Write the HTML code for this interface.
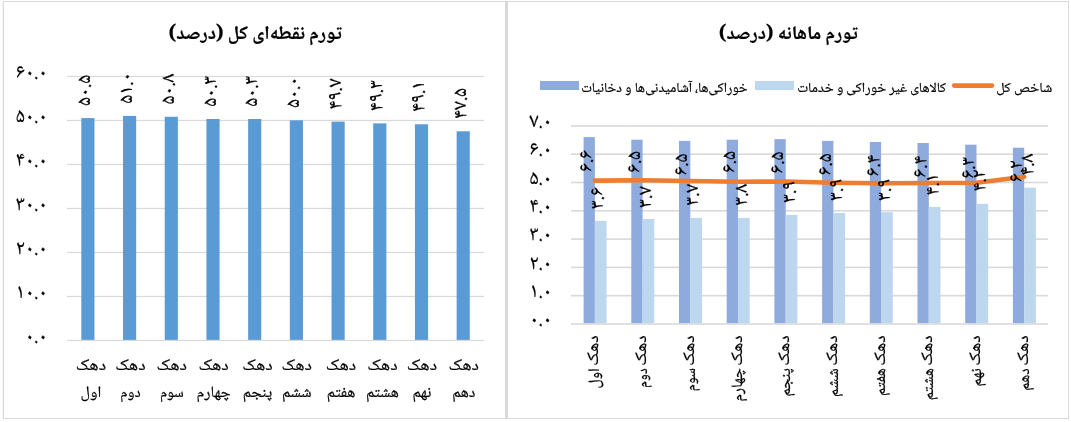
<!DOCTYPE html>
<html lang="fa">
<head>
<meta charset="utf-8">
<title>تورم</title>
<style>html,body{margin:0;padding:0;background:#fff;overflow:hidden}svg{display:block}text{white-space:pre;stroke:#000;stroke-width:.2px}</style>
</head>
<body>
<svg width="1071" height="422" viewBox="0 0 1071 422" font-family='"Noto Naskh Arabic", "Liberation Sans", "DejaVu Sans", sans-serif' fill="#000" lang="fa">
<rect x="0" y="0" width="1071" height="422" fill="#fff"/>
<g fill="#D9D9D9" shape-rendering="crispEdges">
<rect x="3" y="1" width="1066" height="1"/>
<rect x="3" y="418" width="1066" height="1"/>
</g>
<rect x="2.75" y="1" width="1.25" height="418" fill="#D9D9D9"/>
<g fill="#D9D9D9" shape-rendering="crispEdges">
<rect x="1068" y="1" width="1" height="418"/>
<rect x="505" y="1" width="3" height="418"/>
</g>
<g fill="#D9D9D9">
<rect x="67" y="75.85" width="417" height="1.2"/>
<rect x="67" y="119.85" width="417" height="1.2"/>
<rect x="67" y="163.85" width="417" height="1.2"/>
<rect x="67" y="207.85" width="417" height="1.2"/>
<rect x="67" y="251.85" width="417" height="1.2"/>
<rect x="67" y="295.85" width="417" height="1.2"/>
</g>
<g fill="#5B9BD5">
<rect x="81.32" y="118.10" width="13.15" height="221.90"/>
<rect x="123.03" y="115.90" width="13.15" height="224.10"/>
<rect x="164.73" y="116.78" width="13.15" height="223.22"/>
<rect x="206.43" y="118.98" width="13.15" height="221.02"/>
<rect x="248.13" y="118.98" width="13.15" height="221.02"/>
<rect x="289.83" y="120.30" width="13.15" height="219.70"/>
<rect x="331.53" y="121.62" width="13.15" height="218.38"/>
<rect x="373.23" y="123.38" width="13.15" height="216.62"/>
<rect x="414.93" y="124.26" width="13.15" height="215.74"/>
<rect x="456.63" y="131.30" width="13.15" height="208.70"/>
</g>
<rect x="67" y="339.85" width="417" height="1.2" fill="#D9D9D9"/>
<text x="47.50" y="77.70" font-size="20.5" text-anchor="end" textLength="31.8" lengthAdjust="spacingAndGlyphs">۶۰.۰</text>
<text x="47.50" y="121.70" font-size="20.5" text-anchor="end" textLength="31.8" lengthAdjust="spacingAndGlyphs">۵۰.۰</text>
<text x="47.50" y="165.70" font-size="20.5" text-anchor="end" textLength="31.8" lengthAdjust="spacingAndGlyphs">۴۰.۰</text>
<text x="47.50" y="209.70" font-size="20.5" text-anchor="end" textLength="31.8" lengthAdjust="spacingAndGlyphs">۳۰.۰</text>
<text x="47.50" y="253.70" font-size="20.5" text-anchor="end" textLength="31.8" lengthAdjust="spacingAndGlyphs">۲۰.۰</text>
<text x="47.50" y="297.70" font-size="20.5" text-anchor="end" textLength="31.8" lengthAdjust="spacingAndGlyphs">۱۰.۰</text>
<text x="47.50" y="341.70" font-size="20.5" text-anchor="end" textLength="22.6" lengthAdjust="spacingAndGlyphs">۰.۰</text>
<text x="90.50" y="105.90" font-size="20" transform="rotate(-90 90.50 105.90)" textLength="31.1" lengthAdjust="spacingAndGlyphs">۵۰.۵</text>
<text x="132.20" y="103.70" font-size="20" transform="rotate(-90 132.20 103.70)" textLength="31.1" lengthAdjust="spacingAndGlyphs">۵۱.۰</text>
<text x="173.90" y="104.58" font-size="20" transform="rotate(-90 173.90 104.58)" textLength="31.1" lengthAdjust="spacingAndGlyphs">۵۰.۸</text>
<text x="215.60" y="106.78" font-size="20" transform="rotate(-90 215.60 106.78)" textLength="31.1" lengthAdjust="spacingAndGlyphs">۵۰.۳</text>
<text x="257.30" y="106.78" font-size="20" transform="rotate(-90 257.30 106.78)" textLength="31.1" lengthAdjust="spacingAndGlyphs">۵۰.۳</text>
<text x="299.00" y="108.10" font-size="20" transform="rotate(-90 299.00 108.10)" textLength="31.1" lengthAdjust="spacingAndGlyphs">۵۰.۰</text>
<text x="340.70" y="109.42" font-size="20" transform="rotate(-90 340.70 109.42)" textLength="31.1" lengthAdjust="spacingAndGlyphs">۴۹.۷</text>
<text x="382.40" y="111.18" font-size="20" transform="rotate(-90 382.40 111.18)" textLength="31.1" lengthAdjust="spacingAndGlyphs">۴۹.۳</text>
<text x="424.10" y="112.06" font-size="20" transform="rotate(-90 424.10 112.06)" textLength="31.1" lengthAdjust="spacingAndGlyphs">۴۹.۱</text>
<text x="465.80" y="119.10" font-size="20" transform="rotate(-90 465.80 119.10)" textLength="31.1" lengthAdjust="spacingAndGlyphs">۴۷.۵</text>
<text x="90.90" y="369.70" font-size="16" text-anchor="middle" textLength="30.4" lengthAdjust="spacingAndGlyphs">دهک</text>
<text x="90.90" y="397.30" font-size="16" text-anchor="middle" textLength="20.8" lengthAdjust="spacingAndGlyphs">اول</text>
<text x="130.40" y="369.70" font-size="16" text-anchor="middle" textLength="30.4" lengthAdjust="spacingAndGlyphs">دهک</text>
<text x="130.40" y="397.30" font-size="16" text-anchor="middle" textLength="20.4" lengthAdjust="spacingAndGlyphs">دوم</text>
<text x="171.80" y="369.70" font-size="16" text-anchor="middle" textLength="30.4" lengthAdjust="spacingAndGlyphs">دهک</text>
<text x="171.80" y="397.30" font-size="16" text-anchor="middle" textLength="23.8" lengthAdjust="spacingAndGlyphs">سوم</text>
<text x="213.60" y="369.70" font-size="16" text-anchor="middle" textLength="30.4" lengthAdjust="spacingAndGlyphs">دهک</text>
<text x="213.60" y="397.30" font-size="16" text-anchor="middle" textLength="34.3" lengthAdjust="spacingAndGlyphs">چهارم</text>
<text x="257.50" y="369.70" font-size="16" text-anchor="middle" textLength="30.4" lengthAdjust="spacingAndGlyphs">دهک</text>
<text x="257.50" y="397.30" font-size="16" text-anchor="middle" textLength="29.3" lengthAdjust="spacingAndGlyphs">پنجم</text>
<text x="296.80" y="369.70" font-size="16" text-anchor="middle" textLength="30.4" lengthAdjust="spacingAndGlyphs">دهک</text>
<text x="296.80" y="397.30" font-size="16" text-anchor="middle" textLength="29.6" lengthAdjust="spacingAndGlyphs">ششم</text>
<text x="341.00" y="369.70" font-size="16" text-anchor="middle" textLength="30.4" lengthAdjust="spacingAndGlyphs">دهک</text>
<text x="341.00" y="397.30" font-size="16" text-anchor="middle" textLength="28.5" lengthAdjust="spacingAndGlyphs">هفتم</text>
<text x="382.40" y="369.70" font-size="16" text-anchor="middle" textLength="30.4" lengthAdjust="spacingAndGlyphs">دهک</text>
<text x="382.40" y="397.30" font-size="16" text-anchor="middle" textLength="33.0" lengthAdjust="spacingAndGlyphs">هشتم</text>
<text x="421.90" y="369.70" font-size="16" text-anchor="middle" textLength="30.4" lengthAdjust="spacingAndGlyphs">دهک</text>
<text x="421.90" y="397.30" font-size="16" text-anchor="middle" textLength="19.0" lengthAdjust="spacingAndGlyphs">نهم</text>
<text x="463.80" y="369.70" font-size="16" text-anchor="middle" textLength="30.4" lengthAdjust="spacingAndGlyphs">دهک</text>
<text x="463.80" y="397.30" font-size="16" text-anchor="middle" textLength="23.2" lengthAdjust="spacingAndGlyphs">دهم</text>
<text x="255.20" y="39.00" font-size="19.05" text-anchor="middle" font-weight="bold" textLength="173.3" lengthAdjust="spacingAndGlyphs">تورم نقطه‌ای کل (درصد)</text>
<g fill="#D9D9D9">
<rect x="571" y="125.10" width="477" height="1.6"/>
<rect x="571" y="153.40" width="477" height="1.6"/>
<rect x="571" y="181.70" width="477" height="1.6"/>
<rect x="571" y="210.00" width="477" height="1.6"/>
<rect x="571" y="238.30" width="477" height="1.6"/>
<rect x="571" y="266.60" width="477" height="1.6"/>
<rect x="571" y="294.90" width="477" height="1.6"/>
</g>
<g fill="#8FAADC">
<rect x="583.60" y="137.1" width="11.3" height="186.30"/>
<rect x="631.30" y="139.7" width="11.3" height="183.70"/>
<rect x="679.00" y="140.9" width="11.3" height="182.50"/>
<rect x="726.70" y="139.7" width="11.3" height="183.70"/>
<rect x="774.40" y="139.1" width="11.3" height="184.30"/>
<rect x="822.10" y="140.9" width="11.3" height="182.50"/>
<rect x="869.80" y="142" width="11.3" height="181.40"/>
<rect x="917.50" y="143" width="11.3" height="180.40"/>
<rect x="965.20" y="144.7" width="11.3" height="178.70"/>
<rect x="1012.90" y="147.7" width="11.3" height="175.70"/>
</g><g fill="#BDD7EE">
<rect x="594.80" y="220.9" width="11.8" height="102.50"/>
<rect x="642.50" y="219" width="11.8" height="104.40"/>
<rect x="690.20" y="217.9" width="11.8" height="105.50"/>
<rect x="737.90" y="217.9" width="11.8" height="105.50"/>
<rect x="785.60" y="214.9" width="11.8" height="108.50"/>
<rect x="833.30" y="213" width="11.8" height="110.40"/>
<rect x="881.00" y="212.2" width="11.8" height="111.20"/>
<rect x="928.70" y="206.9" width="11.8" height="116.50"/>
<rect x="976.40" y="203.8" width="11.8" height="119.60"/>
<rect x="1024.10" y="187.7" width="11.8" height="135.70"/>
</g>
<rect x="571" y="323.20" width="477" height="1.6" fill="#D9D9D9"/>
<polyline points="594.85,180.65 642.55,180.30 690.25,181.00 737.95,181.70 785.65,181.50 833.35,182.70 881.05,183.20 928.75,183.00 976.45,182.80 1024.15,176.70" fill="none" stroke="#ED7D31" stroke-width="4.6" stroke-linecap="round" stroke-linejoin="round"/>
<text x="552.00" y="127.00" font-size="20.5" text-anchor="end" textLength="22.6" lengthAdjust="spacingAndGlyphs">۷.۰</text>
<text x="552.00" y="155.30" font-size="20.5" text-anchor="end" textLength="22.6" lengthAdjust="spacingAndGlyphs">۶.۰</text>
<text x="552.00" y="183.60" font-size="20.5" text-anchor="end" textLength="22.6" lengthAdjust="spacingAndGlyphs">۵.۰</text>
<text x="552.00" y="211.90" font-size="20.5" text-anchor="end" textLength="22.6" lengthAdjust="spacingAndGlyphs">۴.۰</text>
<text x="552.00" y="240.20" font-size="20.5" text-anchor="end" textLength="22.6" lengthAdjust="spacingAndGlyphs">۳.۰</text>
<text x="552.00" y="268.50" font-size="20.5" text-anchor="end" textLength="22.6" lengthAdjust="spacingAndGlyphs">۲.۰</text>
<text x="552.00" y="296.80" font-size="20.5" text-anchor="end" textLength="22.6" lengthAdjust="spacingAndGlyphs">۱.۰</text>
<text x="552.00" y="325.10" font-size="20.5" text-anchor="end" textLength="22.6" lengthAdjust="spacingAndGlyphs">۰.۰</text>
<text x="592.20" y="172.00" font-size="20" transform="rotate(-90 592.20 172.00)" textLength="22.1" lengthAdjust="spacingAndGlyphs">۶.۶</text>
<text x="603.40" y="209.20" font-size="20" transform="rotate(-90 603.40 209.20)" textLength="22.1" lengthAdjust="spacingAndGlyphs">۳.۶</text>
<text x="640.00" y="173.10" font-size="20" transform="rotate(-90 640.00 173.10)" textLength="22.1" lengthAdjust="spacingAndGlyphs">۶.۵</text>
<text x="650.80" y="208.10" font-size="20" transform="rotate(-90 650.80 208.10)" textLength="22.1" lengthAdjust="spacingAndGlyphs">۳.۷</text>
<text x="687.40" y="175.60" font-size="20" transform="rotate(-90 687.40 175.60)" textLength="22.1" lengthAdjust="spacingAndGlyphs">۶.۵</text>
<text x="698.50" y="205.80" font-size="20" transform="rotate(-90 698.50 205.80)" textLength="22.1" lengthAdjust="spacingAndGlyphs">۳.۷</text>
<text x="735.20" y="173.10" font-size="20" transform="rotate(-90 735.20 173.10)" textLength="22.1" lengthAdjust="spacingAndGlyphs">۶.۵</text>
<text x="746.70" y="205.80" font-size="20" transform="rotate(-90 746.70 205.80)" textLength="22.1" lengthAdjust="spacingAndGlyphs">۳.۸</text>
<text x="783.00" y="173.70" font-size="20" transform="rotate(-90 783.00 173.70)" textLength="22.1" lengthAdjust="spacingAndGlyphs">۶.۵</text>
<text x="794.50" y="203.00" font-size="20" transform="rotate(-90 794.50 203.00)" textLength="22.1" lengthAdjust="spacingAndGlyphs">۳.۹</text>
<text x="831.20" y="175.40" font-size="20" transform="rotate(-90 831.20 175.40)" textLength="22.1" lengthAdjust="spacingAndGlyphs">۶.۵</text>
<text x="842.30" y="200.90" font-size="20" transform="rotate(-90 842.30 200.90)" textLength="22.1" lengthAdjust="spacingAndGlyphs">۳.۹</text>
<text x="878.60" y="176.50" font-size="20" transform="rotate(-90 878.60 176.50)" textLength="22.1" lengthAdjust="spacingAndGlyphs">۶.۴</text>
<text x="890.00" y="200.90" font-size="20" transform="rotate(-90 890.00 200.90)" textLength="22.1" lengthAdjust="spacingAndGlyphs">۳.۹</text>
<text x="926.00" y="177.70" font-size="20" transform="rotate(-90 926.00 177.70)" textLength="22.1" lengthAdjust="spacingAndGlyphs">۶.۴</text>
<text x="938.00" y="195.60" font-size="20" transform="rotate(-90 938.00 195.60)" textLength="22.1" lengthAdjust="spacingAndGlyphs">۴.۱</text>
<text x="974.20" y="178.80" font-size="20" transform="rotate(-90 974.20 178.80)" textLength="22.1" lengthAdjust="spacingAndGlyphs">۶.۳</text>
<text x="985.30" y="191.50" font-size="20" transform="rotate(-90 985.30 191.50)" textLength="22.1" lengthAdjust="spacingAndGlyphs">۴.۲</text>
<text x="1022.00" y="182.30" font-size="20" transform="rotate(-90 1022.00 182.30)" textLength="22.1" lengthAdjust="spacingAndGlyphs">۶.۲</text>
<text x="1033.20" y="175.60" font-size="20" transform="rotate(-90 1033.20 175.60)" textLength="22.1" lengthAdjust="spacingAndGlyphs">۴.۸</text>
<text x="598.45" y="335.30" font-size="16" text-anchor="end" transform="rotate(-90 598.45 335.30)" textLength="30.4" lengthAdjust="spacingAndGlyphs">دهک</text>
<text x="599.25" y="368.20" font-size="16" text-anchor="end" transform="rotate(-90 599.25 368.20)" textLength="20.2" lengthAdjust="spacingAndGlyphs">اول</text>
<text x="646.15" y="335.30" font-size="16" text-anchor="end" transform="rotate(-90 646.15 335.30)" textLength="30.4" lengthAdjust="spacingAndGlyphs">دهک</text>
<text x="646.95" y="368.20" font-size="16" text-anchor="end" transform="rotate(-90 646.95 368.20)" textLength="19.8" lengthAdjust="spacingAndGlyphs">دوم</text>
<text x="693.85" y="335.30" font-size="16" text-anchor="end" transform="rotate(-90 693.85 335.30)" textLength="30.4" lengthAdjust="spacingAndGlyphs">دهک</text>
<text x="694.65" y="368.20" font-size="16" text-anchor="end" transform="rotate(-90 694.65 368.20)" textLength="23.1" lengthAdjust="spacingAndGlyphs">سوم</text>
<text x="741.55" y="335.30" font-size="16" text-anchor="end" transform="rotate(-90 741.55 335.30)" textLength="30.4" lengthAdjust="spacingAndGlyphs">دهک</text>
<text x="742.35" y="368.20" font-size="16" text-anchor="end" transform="rotate(-90 742.35 368.20)" textLength="33.3" lengthAdjust="spacingAndGlyphs">چهارم</text>
<text x="789.25" y="335.30" font-size="16" text-anchor="end" transform="rotate(-90 789.25 335.30)" textLength="30.4" lengthAdjust="spacingAndGlyphs">دهک</text>
<text x="790.05" y="368.20" font-size="16" text-anchor="end" transform="rotate(-90 790.05 368.20)" textLength="28.4" lengthAdjust="spacingAndGlyphs">پنجم</text>
<text x="836.95" y="335.30" font-size="16" text-anchor="end" transform="rotate(-90 836.95 335.30)" textLength="30.4" lengthAdjust="spacingAndGlyphs">دهک</text>
<text x="837.75" y="368.20" font-size="16" text-anchor="end" transform="rotate(-90 837.75 368.20)" textLength="28.7" lengthAdjust="spacingAndGlyphs">ششم</text>
<text x="884.65" y="335.30" font-size="16" text-anchor="end" transform="rotate(-90 884.65 335.30)" textLength="30.4" lengthAdjust="spacingAndGlyphs">دهک</text>
<text x="885.45" y="368.20" font-size="16" text-anchor="end" transform="rotate(-90 885.45 368.20)" textLength="27.7" lengthAdjust="spacingAndGlyphs">هفتم</text>
<text x="932.35" y="335.30" font-size="16" text-anchor="end" transform="rotate(-90 932.35 335.30)" textLength="30.4" lengthAdjust="spacingAndGlyphs">دهک</text>
<text x="933.15" y="368.20" font-size="16" text-anchor="end" transform="rotate(-90 933.15 368.20)" textLength="32.0" lengthAdjust="spacingAndGlyphs">هشتم</text>
<text x="980.05" y="335.30" font-size="16" text-anchor="end" transform="rotate(-90 980.05 335.30)" textLength="30.4" lengthAdjust="spacingAndGlyphs">دهک</text>
<text x="980.85" y="368.20" font-size="16" text-anchor="end" transform="rotate(-90 980.85 368.20)" textLength="18.4" lengthAdjust="spacingAndGlyphs">نهم</text>
<text x="1027.75" y="335.30" font-size="16" text-anchor="end" transform="rotate(-90 1027.75 335.30)" textLength="30.4" lengthAdjust="spacingAndGlyphs">دهک</text>
<text x="1028.55" y="368.20" font-size="16" text-anchor="end" transform="rotate(-90 1028.55 368.20)" textLength="22.5" lengthAdjust="spacingAndGlyphs">دهم</text>
<rect x="540" y="81" width="39" height="9" fill="#8FAADC"/>
<text x="581.20" y="91.60" font-size="13.8" textLength="166.4" lengthAdjust="spacingAndGlyphs">خوراکی‌ها، آشامیدنی‌ها و دخانیات</text>
<rect x="755" y="81" width="39" height="9" fill="#BDD7EE"/>
<text x="797.20" y="91.60" font-size="13.8" textLength="149.0" lengthAdjust="spacingAndGlyphs">کالاهای غیر خوراکی و خدمات</text>
<line x1="954.2" y1="85.6" x2="992" y2="85.6" stroke="#ED7D31" stroke-width="4.6" stroke-linecap="round"/>
<text x="996.30" y="91.60" font-size="13.8" textLength="56.1" lengthAdjust="spacingAndGlyphs">شاخص کل</text>
<text x="788.30" y="39.00" font-size="18.9" text-anchor="middle" font-weight="bold" textLength="138.9" lengthAdjust="spacingAndGlyphs">تورم ماهانه (درصد)</text>
</svg>
</body>
</html>
